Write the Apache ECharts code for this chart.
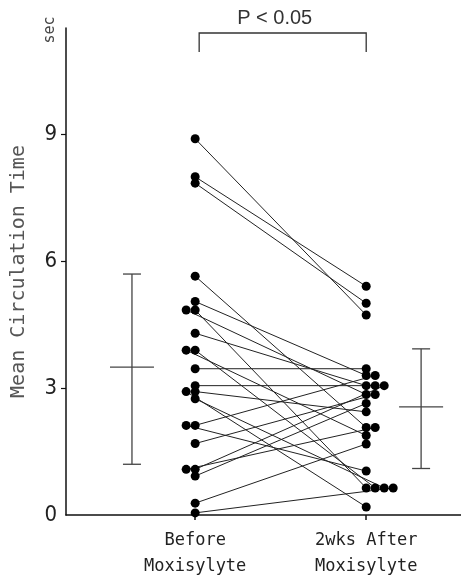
<!DOCTYPE html>
<html>
<head>
<meta charset="utf-8">
<script src="https://cdn.jsdelivr.net/npm/echarts@6/dist/echarts.min.js"></script>
<style>
html,body{margin:0;padding:0;background:#fff;}
#chart{width:461px;height:580px;}
</style>
</head>
<body>
<div id="chart"></div>
<script>
// ---- data ----
const categories = ['Before\nMoxisylyte', '2wks After\nMoxisylyte'];
const beforeValues = [8.9, 8.0, 7.85, 5.65, 5.05, 4.85, 4.85, 4.3, 3.9, 3.9, 3.46, 3.06, 2.92, 2.92, 2.75, 2.12, 2.12, 1.69, 1.08, 1.08, 0.92, 0.28, 0.05];
const afterValues  = [4.73, 5.41, 5.01, 2.07, 3.3, 0.64, 2.85, 3.06, 0.64, 1.88, 3.46, 3.06, 2.44, 0.19, 0.64, 3.3, 1.04, 2.85, 3.06, 2.07, 2.64, 1.68, 0.64];
const meanValues = [3.5, 2.56];
const sdLower = [1.2, 1.1];
const sdUpper = [5.7, 3.93];
const yTicks = [0, 3, 6, 9];
const yTickMarks = [3, 6, 9];
const yName = 'Mean Circulation Time';
const yUnit = 'sec';
const pText = 'P < 0.05';

// ---- layout (axis units, x axis 0..100) ----
const catX = [32.7, 76.0];
const barX = [16.7, 89.9];
const plotWidthPx = 395;
const stepUnits = 9 * 100 / plotWidthPx;

function slotted(values, cx, dir) {
  const seen = {};
  return values.map(v => {
    const k = String(v);
    const s = seen[k] || 0;
    seen[k] = s + 1;
    return [cx + dir * s * stepUnits, v];
  });
}
const beforePts = slotted(beforeValues, catX[0], -1);
const afterPts = slotted(afterValues, catX[1], 1);

const series = [];
for (let i = 0; i < beforePts.length; i++) {
  series.push({
    type: 'line', data: [beforePts[i], afterPts[i]], showSymbol: false, silent: true,
    lineStyle: { color: '#222', width: 1 }, z: 2, animation: false
  });
}
series.push({
  type: 'scatter', data: beforePts.concat(afterPts), symbolSize: 9,
  itemStyle: { color: '#000', opacity: 1 }, z: 5, animation: false
});
series.push({
  type: 'custom', z: 3, animation: false,
  data: meanValues.map((m, i) => [barX[i], m, sdLower[i], sdUpper[i]]),
  renderItem: function (params, api) {
    const x = api.value(0);
    const pm = api.coord([x, api.value(1)]);
    const pl = api.coord([x, api.value(2)]);
    const ph = api.coord([x, api.value(3)]);
    const st = { stroke: '#444', lineWidth: 1.3 };
    const cap = 9, half = 22;
    return {
      type: 'group', children: [
        { type: 'line', shape: { x1: pl[0], y1: pl[1], x2: ph[0], y2: ph[1] }, style: st },
        { type: 'line', shape: { x1: ph[0] - cap, y1: ph[1], x2: ph[0] + cap, y2: ph[1] }, style: st },
        { type: 'line', shape: { x1: pl[0] - cap, y1: pl[1], x2: pl[0] + cap, y2: pl[1] }, style: st },
        { type: 'line', shape: { x1: pm[0] - half, y1: pm[1], x2: pm[0] + half, y2: pm[1] }, style: st }
      ]
    };
  }
});

const chart = echarts.init(document.getElementById('chart'), null, { renderer: 'canvas' });
chart.setOption({
  animation: false,
  backgroundColor: '#fff',
  grid: { left: 66, right: 0, top: 28, bottom: 63, containLabel: false },
  xAxis: {
    type: 'value', min: 0, max: 100,
    splitLine: { show: false },
    axisLine: { show: true, onZero: false, lineStyle: { color: '#111', width: 1.5 } },
    axisTick: { show: true, customValues: catX, length: 5, lineStyle: { color: '#111', width: 1.5 } },
    axisLabel: {
      customValues: catX, margin: 13,
      formatter: v => (v < 54 ? categories[0] : categories[1]),
      fontFamily: 'DejaVu Sans Mono', fontSize: 17, lineHeight: 26, color: '#222'
    }
  },
  yAxis: {
    type: 'value', min: 0, max: 11.52, interval: 3,
    splitLine: { show: false },
    name: yName, nameLocation: 'middle', nameRotate: 90, nameGap: 37,
    nameTextStyle: { fontFamily: 'DejaVu Sans Mono', fontSize: 20, color: '#555' },
    axisLine: { show: true, lineStyle: { color: '#111', width: 1.5 } },
    axisTick: { show: true, customValues: yTickMarks, length: 5, lineStyle: { color: '#111', width: 1.2 } },
    axisLabel: {
      customValues: yTicks, margin: 9,
      fontFamily: 'Liberation Sans Narrow, DejaVu Sans Condensed, sans-serif', fontSize: 22, color: '#222'
    }
  },
  series: series
});

const x1 = chart.convertToPixel({ xAxisIndex: 0 }, catX[0]) + 4;
const x2 = chart.convertToPixel({ xAxisIndex: 0 }, catX[1]);
chart.setOption({
  graphic: [
    { type: 'polyline', shape: { points: [[x1, 52], [x1, 33], [x2, 33], [x2, 52]] }, style: { stroke: '#333', lineWidth: 1.3, fill: null } },
    { type: 'text', x: (x1 + x2) / 2 - 8, y: 18, style: { text: pText, font: '20px Liberation Sans Narrow, Liberation Sans, sans-serif', fill: '#333', textAlign: 'center', textVerticalAlign: 'middle' } },
    { type: 'text', x: 50, y: 30, rotation: Math.PI / 2, style: { text: yUnit, font: '15px DejaVu Sans Mono', fill: '#444', textAlign: 'center', textVerticalAlign: 'middle' } }
  ]
});
</script>
</body>
</html>
